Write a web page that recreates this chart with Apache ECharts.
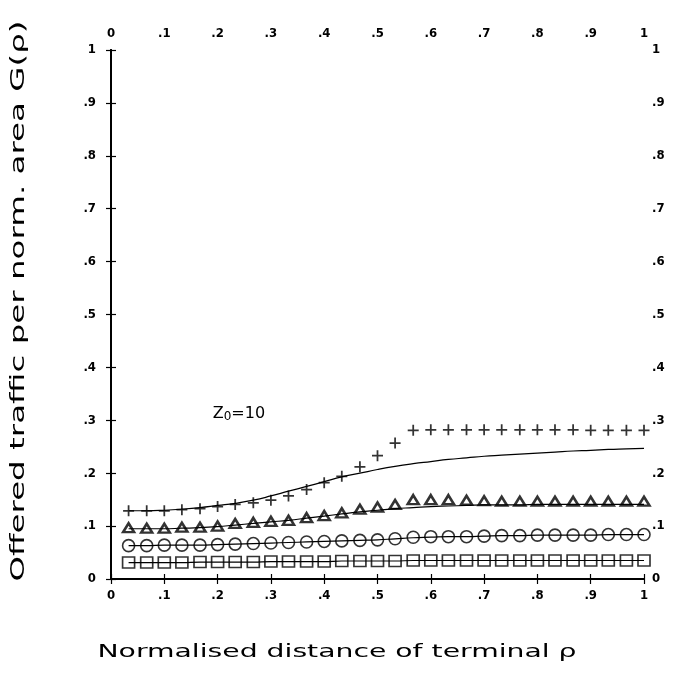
<!DOCTYPE html>
<html>
<head>
<meta charset="utf-8">
<script src="https://cdn.jsdelivr.net/npm/echarts@6/dist/echarts.min.js"></script>
<style>
html,body{margin:0;padding:0;background:#fff;}
#chart{width:677px;height:673px;}
</style>
</head>
<body>
<div id="chart"></div>
<script>
// normalised distance of terminal rho (marker positions)
var rho = [0.033,0.067,0.100,0.133,0.167,0.200,0.233,0.267,0.300,0.333,
           0.367,0.400,0.433,0.467,0.500,0.533,0.567,0.600,0.633,0.667,
           0.700,0.733,0.767,0.800,0.833,0.867,0.900,0.933,0.967,1.000];

// simulated points
var plusPts  = [0.129,0.129,0.129,0.131,0.133,0.137,0.141,0.144,0.149,0.157,
                0.169,0.182,0.194,0.212,0.233,0.257,0.281,0.282,0.282,0.282,
                0.282,0.282,0.282,0.282,0.282,0.282,0.281,0.281,0.281,0.281];
var triPts   = [0.097,0.096,0.096,0.098,0.098,0.100,0.105,0.107,0.109,0.111,
                0.116,0.120,0.125,0.132,0.136,0.141,0.150,0.150,0.150,0.149,
                0.148,0.147,0.147,0.147,0.147,0.147,0.147,0.147,0.147,0.147];
var circPts  = [0.063,0.063,0.064,0.064,0.064,0.065,0.066,0.067,0.068,0.069,
                0.070,0.071,0.072,0.073,0.074,0.076,0.079,0.080,0.080,0.080,
                0.081,0.082,0.082,0.083,0.083,0.083,0.083,0.084,0.084,0.084];
var sqPts    = [0.031,0.031,0.031,0.031,0.032,0.032,0.032,0.032,0.033,0.033,
                0.033,0.033,0.034,0.034,0.034,0.034,0.035,0.035,0.035,0.035,
                0.035,0.035,0.035,0.035,0.035,0.035,0.035,0.035,0.035,0.035];

// theoretical curves
var lineA = [0.129,0.129,0.130,0.132,0.135,0.139,0.143,0.149,0.157,0.166,
             0.175,0.184,0.193,0.200,0.207,0.213,0.218,0.222,0.226,0.229,
             0.232,0.234,0.236,0.238,0.240,0.242,0.243,0.245,0.246,0.247];
var lineB = [0.095,0.095,0.095,0.096,0.097,0.099,0.102,0.105,0.108,0.111,
             0.115,0.119,0.123,0.127,0.130,0.133,0.135,0.137,0.138,0.139,
             0.140,0.140,0.140,0.141,0.141,0.141,0.141,0.141,0.141,0.141];
var lineC = [0.063,0.063,0.064,0.064,0.064,0.065,0.066,0.067,0.068,0.069,
             0.070,0.071,0.072,0.073,0.074,0.076,0.078,0.079,0.080,0.080,
             0.081,0.082,0.082,0.083,0.083,0.083,0.083,0.084,0.084,0.084];
var lineD = [0.031,0.031,0.031,0.031,0.032,0.032,0.032,0.032,0.033,0.033,
             0.033,0.033,0.034,0.034,0.034,0.034,0.035,0.035,0.035,0.035,
             0.035,0.035,0.035,0.035,0.035,0.035,0.035,0.035,0.035,0.035];

var tickLabels = ['0','.1','.2','.3','.4','.5','.6','.7','.8','.9','1'];
var xTitle = 'Normalised distance of terminal \u03C1';
var yTitle = 'Offered traffic per norm. area G(\u03C1)';

function pairs(xs, ys){ return xs.map(function(x,i){ return [x, ys[i]]; }); }
function fmt(v){ var k = Math.round(v*10); return tickLabels[k]; }

var labelFont = {color:'#000', fontSize:13, fontFamily:'"DejaVu Sans Condensed","DejaVu Sans",sans-serif', fontWeight:'bold', formatter: fmt};
var axisCommon = {
  type:'value', min:0, max:1, interval:0.1,
  axisLine:{show:true, lineStyle:{color:'#000', width:2}},
  axisTick:{show:true, inside:true, length:5, lineStyle:{color:'#000', width:1.2}},
  splitLine:{show:false}
};
function ax(extra){ var o = JSON.parse(JSON.stringify(axisCommon)); for (var k in extra) o[k]=extra[k]; return o; }

var plusSymbol = 'path://M0,4.2 L10,4.2 L10,5.8 L0,5.8 Z M4.2,0 L5.8,0 L5.8,10 L4.2,10 Z';

var chart = echarts.init(document.getElementById('chart'), null, {renderer:'canvas'});
chart.setOption({
  animation:false,
  backgroundColor:'#fff',
  grid:{left:111, right:33, top:50, bottom:94},
  xAxis:[
    ax({position:'bottom', axisLabel:Object.assign({margin:10}, labelFont)}),
    ax({position:'top', axisLabel:Object.assign({margin:10}, labelFont)})
  ],
  yAxis:[
    ax({position:'left', axisLabel:Object.assign({margin:15}, labelFont)}),
    ax({position:'right', axisLabel:Object.assign({margin:8, align:'left'}, labelFont)})
  ],
  graphic:[
    {type:'text', x:337, y:652, style:{text:xTitle, font:'18px "DejaVu Sans"', fill:'#000', textAlign:'center', textVerticalAlign:'middle'}, scaleX:1.57, scaleY:1},
    {type:'text', x:19, y:301, rotation:Math.PI/2, style:{text:yTitle, font:'19px "DejaVu Sans"', fill:'#000', textAlign:'center', textVerticalAlign:'middle'}, scaleX:1.71, scaleY:1}
  ],
  series:[
    {type:'line', data:pairs(rho, lineA), showSymbol:false, smooth:true, lineStyle:{color:'#000', width:1.2}, z:3},
    {type:'line', data:pairs(rho, lineB), showSymbol:false, smooth:true, lineStyle:{color:'#000', width:1.2}, z:3},
    {type:'line', data:pairs(rho, lineC), showSymbol:false, smooth:true, lineStyle:{color:'#000', width:1.2}, z:3},
    {type:'line', data:pairs(rho, lineD), showSymbol:false, smooth:true, lineStyle:{color:'#000', width:1.2}, z:3},
    {type:'scatter', data:pairs(rho, plusPts), symbol:plusSymbol, symbolSize:11, itemStyle:{color:'#000'}, z:4},
    {type:'scatter', data:pairs(rho, triPts), symbol:'triangle', symbolSize:[11,9], itemStyle:{color:'#fff', borderColor:'#000', borderWidth:2.5}, z:2},
    {type:'scatter', data:pairs(rho, circPts), symbol:'circle', symbolSize:12, itemStyle:{color:'#fff', borderColor:'#000', borderWidth:1.6}, z:2},
    {type:'scatter', data:pairs(rho, sqPts), symbol:'rect', symbolSize:[12,11], itemStyle:{color:'#fff', borderColor:'#000', borderWidth:1.6}, z:2,
     markPoint:{symbol:'circle', symbolSize:0, label:{show:true, formatter:'Z{s|0}=10', color:'#000', fontSize:16, fontFamily:'"DejaVu Sans",sans-serif', rich:{s:{fontSize:12, verticalAlign:'bottom', padding:[7,0,0,0], color:'#000'}}}, data:[{coord:[0.24, 0.313]}]}}
  ]
});
</script>
</body>
</html>
